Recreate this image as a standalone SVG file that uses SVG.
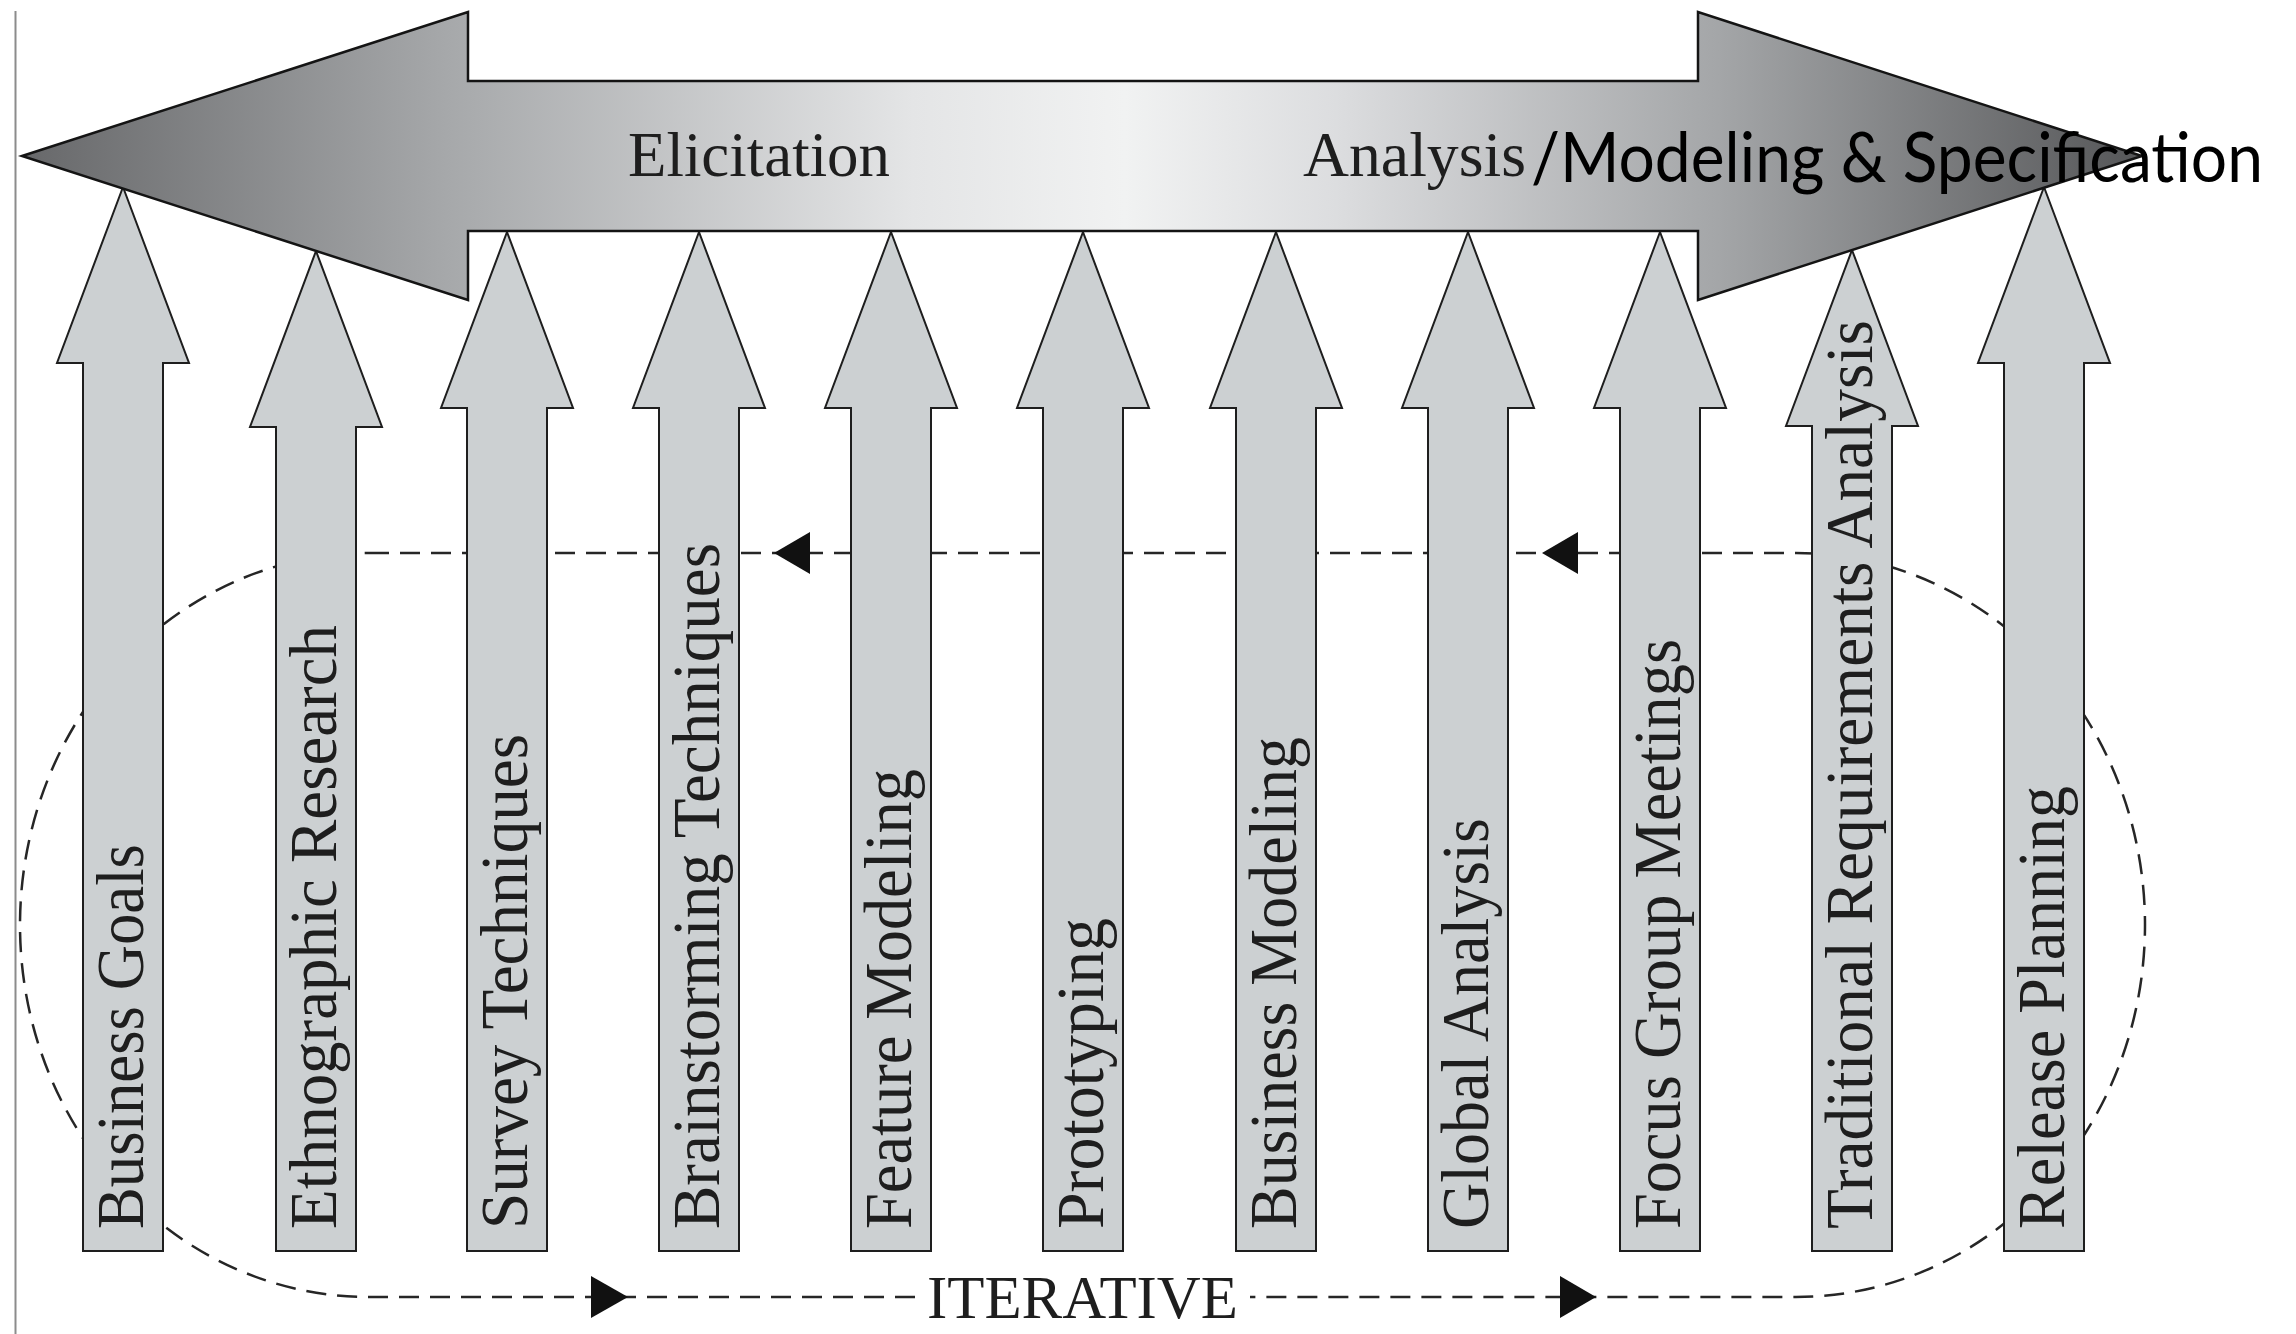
<svg xmlns="http://www.w3.org/2000/svg" width="2296" height="1334" viewBox="0 0 2296 1334">
  <defs>
    <linearGradient id="bandShade" gradientUnits="userSpaceOnUse" x1="22" y1="0" x2="2142" y2="0">
      <stop offset="0" stop-color="#67686a"/>
      <stop offset="0.2" stop-color="#a6a8aa"/>
      <stop offset="0.42" stop-color="#e4e5e6"/>
      <stop offset="0.52" stop-color="#f1f2f2"/>
      <stop offset="0.62" stop-color="#dcdddf"/>
      <stop offset="0.8" stop-color="#a4a6a8"/>
      <stop offset="1" stop-color="#555658"/>
    </linearGradient>
    <style>
      .bar{fill:#ccd0d2;stroke:#1e1e1e;stroke-width:2;stroke-linejoin:miter}
      .band{fill:url(#bandShade);stroke:#141414;stroke-width:2.5;stroke-linejoin:miter}
      .lbl{font-family:"Liberation Serif","Times New Roman",serif;font-size:68px;fill:#1e1e1e}
      .phase{font-family:"Liberation Serif","Times New Roman",serif;font-size:64px;fill:#1e1e1e}
      .phase2{font-family:Lato,"Open Sans","Noto Sans",sans-serif;font-size:70px;fill:#000}
      .loop{fill:none;stroke:#262626;stroke-width:2.5;stroke-dasharray:20 11}
      .tri{fill:#111}
      .frame{stroke:#8c8c8c;stroke-width:2}
    </style>
  </defs>

  <rect width="2296" height="1334" fill="#ffffff"/>
  <line class="frame" x1="15.5" y1="11" x2="15.5" y2="1334"/>

  <!-- iteration loop behind the technique arrows -->
  <g id="connectors">
    <path class="loop" d="M369 553 H1796 A349 372 0 0 1 1796 1297 H1250 M915 1297 H369 A349 372 0 0 1 369 553"/>
    <polygon class="tri" points="774,553 810,532 810,574"/>
    <polygon class="tri" points="1542,553 1578,532 1578,574"/>
    <polygon class="tri" points="628,1297 591,1276 591,1318"/>
    <polygon class="tri" points="1596,1297 1560,1276 1560,1318"/>
    <text x="927" y="1318" class="phase" style="font-size:62px" textLength="311" lengthAdjust="spacingAndGlyphs">ITERATIVE</text>
  </g>

  <!-- technique arrows -->
  <g id="business-goals">
    <polygon class="bar" points="123,187 189,363 163,363 163,1251 83,1251 83,363 57,363"/>
    <text class="lbl" x="143" y="1229" transform="rotate(-90 143 1229)" textLength="385" lengthAdjust="spacingAndGlyphs">Business Goals</text>
  </g>
  <g id="ethnographic-research">
    <polygon class="bar" points="316,251 382,427 356,427 356,1251 276,1251 276,427 250,427"/>
    <text class="lbl" x="336" y="1229" transform="rotate(-90 336 1229)" textLength="604" lengthAdjust="spacingAndGlyphs">Ethnographic Research</text>
  </g>
  <g id="survey-techniques">
    <polygon class="bar" points="507,232 573,408 547,408 547,1251 467,1251 467,408 441,408"/>
    <text class="lbl" x="527" y="1229" transform="rotate(-90 527 1229)" textLength="495" lengthAdjust="spacingAndGlyphs">Survey Techniques</text>
  </g>
  <g id="brainstorming-techniques">
    <polygon class="bar" points="699,232 765,408 739,408 739,1251 659,1251 659,408 633,408"/>
    <text class="lbl" x="719" y="1229" transform="rotate(-90 719 1229)" textLength="686" lengthAdjust="spacingAndGlyphs">Brainstorming Techniques</text>
  </g>
  <g id="feature-modeling">
    <polygon class="bar" points="891,232 957,408 931,408 931,1251 851,1251 851,408 825,408"/>
    <text class="lbl" x="911" y="1229" transform="rotate(-90 911 1229)" textLength="460" lengthAdjust="spacingAndGlyphs">Feature Modeling</text>
  </g>
  <g id="prototyping">
    <polygon class="bar" points="1083,232 1149,408 1123,408 1123,1251 1043,1251 1043,408 1017,408"/>
    <text class="lbl" x="1103" y="1229" transform="rotate(-90 1103 1229)" textLength="311" lengthAdjust="spacingAndGlyphs">Prototyping</text>
  </g>
  <g id="business-modeling">
    <polygon class="bar" points="1276,232 1342,408 1316,408 1316,1251 1236,1251 1236,408 1210,408"/>
    <text class="lbl" x="1296" y="1229" transform="rotate(-90 1296 1229)" textLength="492" lengthAdjust="spacingAndGlyphs">Business Modeling</text>
  </g>
  <g id="global-analysis">
    <polygon class="bar" points="1468,232 1534,408 1508,408 1508,1251 1428,1251 1428,408 1402,408"/>
    <text class="lbl" x="1488" y="1229" transform="rotate(-90 1488 1229)" textLength="411" lengthAdjust="spacingAndGlyphs">Global Analysis</text>
  </g>
  <g id="focus-group-meetings">
    <polygon class="bar" points="1660,232 1726,408 1700,408 1700,1251 1620,1251 1620,408 1594,408"/>
    <text class="lbl" x="1680" y="1229" transform="rotate(-90 1680 1229)" textLength="590" lengthAdjust="spacingAndGlyphs">Focus Group Meetings</text>
  </g>
  <g id="traditional-requirements-analysis">
    <polygon class="bar" points="1852,250 1918,426 1892,426 1892,1251 1812,1251 1812,426 1786,426"/>
  </g>
  <g id="release-planning">
    <polygon class="bar" points="2044,187 2110,363 2084,363 2084,1251 2004,1251 2004,363 1978,363"/>
    <text class="lbl" x="2064" y="1229" transform="rotate(-90 2064 1229)" textLength="443" lengthAdjust="spacingAndGlyphs">Release Planning</text>
  </g>

  <!-- two-headed phase band -->
  <g id="phase-band">
    <polygon class="band" points="22,156 468,12 468,81 1698,81 1698,12 2142,156 1698,300 1698,231 468,231 468,300"/>
    <text class="phase" x="628" y="176" textLength="262" lengthAdjust="spacingAndGlyphs">Elicitation</text>
    <text class="phase" x="1303" y="176" textLength="223" lengthAdjust="spacingAndGlyphs">Analysis</text>
    <text class="phase2" x="1531" y="182" textLength="732" lengthAdjust="spacingAndGlyphs">/Modeling &amp; Specification</text>
  </g>

  <!-- this label runs into the head of its arrow and sits above the band edge -->
  <text class="lbl" x="1872" y="1229" transform="rotate(-90 1872 1229)" textLength="909" lengthAdjust="spacingAndGlyphs">Traditional Requirements Analysis</text>
</svg>
